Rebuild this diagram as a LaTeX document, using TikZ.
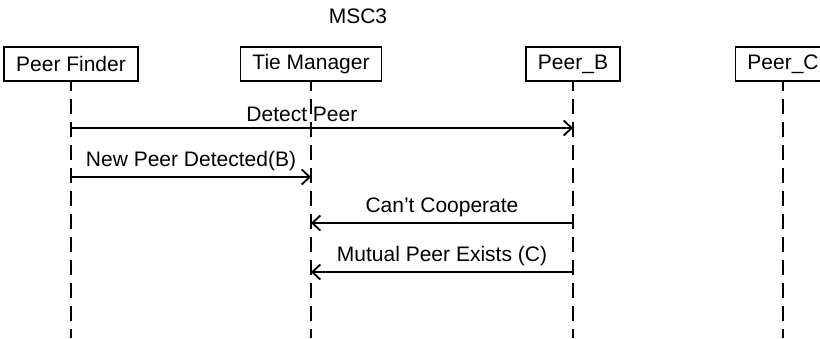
\documentclass[tikz,border=0pt]{standalone}
\usepackage{fontspec}
\setmainfont{Liberation Sans}
\usetikzlibrary{arrows.meta}

\begin{document}
\begin{tikzpicture}[x=0.5pt,y=-0.5pt,line width=0.9pt,font=\fontsize{10.5}{12.6}\selectfont]
              \tikzstyle{actor} = [draw, line width=0.8pt, minimum height=17pt, inner xsep=6pt];
              \tikzstyle{lifeline} = [dash pattern=on 7.5pt off 4pt, dash phase=3pt];
              \tikzstyle{msg} = [-{Straight Barb[length=4pt,width=7.5pt]}];
              \tikzstyle{lbl} = [inner sep=2.5pt];
              \clip (0,0) rectangle (820,338);
              \node (title) at (358,16) {MSC3};
              \foreach \n/\x/\t in {pf/71/Peer Finder,tm/311/Tie Manager,pb/573/Peer\_B,pc/783/Peer\_C}{
                \node[actor] (\n) at (\x,64) {\t};
                \coordinate (\n end) at (\x,338);
                \draw[lifeline] (\n) -- (\n end);
              }
              \foreach \n/\x in {pf/71,tm/311,pb/573}{
                \foreach \j/\y in {1/128,2/177,3/223,4/272}{
                  \coordinate (\n\j) at (\x,\y);
                }
              }
              \path[msg]
              (pf1) edge node[lbl, above, pos=.46] {Detect Peer} (pb1)
              (pf2) edge node[lbl, above] {New Peer Detected(B)} (tm2)
              (pb3) edge node[lbl, above] {Can’t Cooperate} (tm3)
              (pb4) edge node[lbl, above] {Mutual Peer Exists (C)} (tm4);
            \end{tikzpicture}
\end{document}
